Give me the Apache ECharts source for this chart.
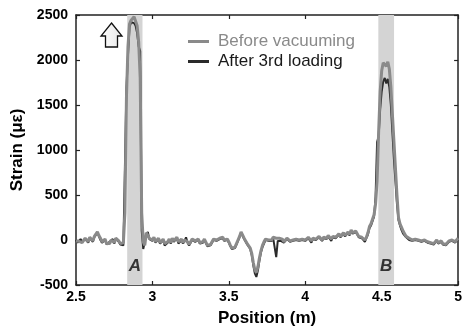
<!DOCTYPE html>
<html><head><meta charset="utf-8">
<script src="https://cdn.jsdelivr.net/npm/echarts@6/dist/echarts.min.js"></script>
<style>html,body{margin:0;padding:0;background:#fff}#c{width:465px;height:332px}</style>
</head><body><div id="c"></div>
<script>
// Sampling grid (m): 2.50 .. 5.00, step 0.01
const startPos = 2.5;
const stepPos = 0.01;

// Before vacuuming (µε), one value per 0.01 m
const beforeVacuuming = [
  -10, -20, -15, 0, -30, -10, 20, 10, -20, 30,
  20, -10, 40, 60, 90, 50, 20, -20, -30, 10,
  -40, -20, -40, 0, 20, -30, 20, 40, -10, -40,
  -30, -30, 300, 1580, 2150, 2400, 2440, 2460, 2480, 2460,
  2380, 2200, 1800, 300, -20, -60, 80, 60, 20, 40,
  0, 30, -20, -10, 20, -30, -10, 10, -40, -60,
  -20, 10, -30, 20, -10, 0, 30, -20, -10, 10,
  -30, 0, 20, -20, -50, -30, 10, 20, -10, -20,
  10, -30, -40, -20, 10, -10, -60, -80, -50, -20,
  10, 30, 0, -20, 20, 40, 30, 0, -20, 10,
  -20, -60, -90, -100, -80, -40, 0, 40, 90, 80,
  20, -10, -40, -60, -90, -150, -250, -330, -360, -300,
  -200, -120, -60, -20, 10, -10, 0, 20, 0, 30,
  10, 20, 0, 20, 0, 10, -20, 0, 20, 10,
  -10, 10, 0, -20, 10, 20, 0, -10, 10, 20,
  0, 20, 30, 10, -10, 20, 30, 10, 20, 40,
  20, 0, 30, 40, 20, 50, 30, 10, 40, 60,
  30, 50, 70, 40, 60, 80, 50, 70, 90, 60,
  110, 80, 60, 100, 70, 40, 60, 30, 10, 0,
  30, 80, 150, 180, 200, 280, 400, 650, 1200, 1650,
  1880, 1970, 1980, 1930, 1980, 1900, 1700, 1400, 1100, 800,
  500, 250, 180, 140, 100, 70, 40, 30, 20, 10,
  0, 20, 10, -10, 0, 20, -10, -20, 0, 10,
  -20, 0, -30, -10, -40, -20, 0, -30, -20, -10,
  -40, -20, -50, -30, -10, -20, 0, 10, -20, 0,
  20
];

// After 3rd loading (µε)
const after3rdLoading = [
  0, -30, -20, 10, -20, -30, 10, 20, -30, 20,
  10, -20, 30, 50, 80, 40, 0, -30, -40, 0,
  -50, -30, -20, -10, 10, -40, 10, 30, -20, -50,
  -50, -60, -60, 1690, 2050, 2360, 2420, 2430, 2410, 2380,
  2300, 2150, 2100, 100, -100, -80, 60, 90, 10, 30,
  -10, 20, -30, -20, 10, -40, -20, 0, -60, -80,
  -30, 0, -40, 10, -20, -10, 20, -40, -20, 0,
  -40, -10, 30, -30, -60, -40, 0, 10, -20, -30,
  0, -40, -50, -30, 0, -20, -70, -90, -60, -30,
  0, 20, -10, -30, 10, 30, 20, -10, -30, 0,
  -30, -70, -100, -110, -90, -50, -10, 30, 80, 70,
  10, -20, -50, -70, -100, -170, -280, -370, -410, -340,
  -230, -140, -80, -40, 0, -20, -10, 10, -10, 20,
  0, -190, -10, 10, -10, 0, -30, -10, 10, 0,
  -20, 0, -10, -30, 0, 10, -10, -20, 0, 10,
  -10, 10, 20, 0, -30, 10, 20, 0, 10, 30,
  10, -10, 20, 30, 10, 40, 20, -10, 30, 50,
  20, 40, 60, 30, 50, 70, 40, 60, 80, 50,
  100, 70, 50, 90, 60, 30, 50, 20, 0, -20,
  20, 60, 130, 160, 180, 260, 480, 1090, 1150, 1450,
  1650, 1760, 1800, 1740, 1790, 1700, 1500, 1200, 900, 650,
  400, 220, 160, 110, 70, 50, 30, 10, 0, -10,
  -10, 10, 0, -20, -10, 10, -20, -30, -10, 0,
  -30, -10, -40, -20, -50, -30, -10, -40, -30, -20,
  -50, -30, -60, -40, -20, -30, -10, 0, -30, -10,
  10
];

const positions = beforeVacuuming.map((_, i) => +(startPos + i * stepPos).toFixed(2));

// Axis ranges
const xRange = { min: 2.5, max: 5, interval: 0.5 };
const yRange = { min: -500, max: 2500, interval: 500 };

// Shaded zones
const bandNames = ['A', 'B'];
const bandFrom = [2.835, 4.478];
const bandTo = [2.935, 4.581];

const seriesNames = ['Before vacuuming', 'After 3rd loading'];

const FONT = '"Liberation Sans", Arial, sans-serif';
const AX = '#222';

function zip(vals) { return vals.map((v, i) => [positions[i], v]); }

const chart = echarts.init(document.getElementById('c'), null, { renderer: 'canvas' });

const baseX = {
  type: 'value', min: xRange.min, max: xRange.max, interval: xRange.interval,
  axisLine: { onZero: false, lineStyle: { color: AX, width: 1.5 } },
  axisTick: { inside: true, length: 4, lineStyle: { color: AX, width: 1.2 } },
  splitLine: { show: false }
};
const baseY = {
  type: 'value', min: yRange.min, max: yRange.max, interval: yRange.interval,
  axisLine: { show: true, onZero: false, lineStyle: { color: AX, width: 1.5 } },
  axisTick: { show: true, inside: true, length: 4, lineStyle: { color: AX, width: 1.2 } },
  splitLine: { show: false }
};

chart.setOption({
  animation: false,
  backgroundColor: '#fff',
  grid: { left: 76, right: 2, top: 15, bottom: 47 },
  legend: {
    orient: 'vertical', left: 183, top: 28, itemWidth: 21, itemHeight: 3, itemGap: 3,
    icon: 'rect',
    textStyle: { fontSize: 17, fontFamily: FONT, padding: [0, 0, 0, 4] },
    data: [
      { name: seriesNames[0], textStyle: { color: '#8a8a8a' } },
      { name: seriesNames[1], textStyle: { color: '#1a1a1a' } }
    ]
  },
  xAxis: [
    Object.assign({}, baseX, {
      position: 'bottom',
      axisLabel: { color: '#000', fontWeight: 'bold', fontSize: 14, fontFamily: FONT, margin: 5 },
      name: 'Position (m)', nameLocation: 'middle', nameGap: 25,
      nameTextStyle: { color: '#000', fontWeight: 'bold', fontSize: 17, fontFamily: FONT }
    }),
    Object.assign({}, baseX, { position: 'top', axisLabel: { show: false } })
  ],
  yAxis: [
    Object.assign({}, baseY, {
      position: 'left',
      axisLabel: { color: '#000', fontWeight: 'bold', fontSize: 14, fontFamily: FONT, margin: 8,
        formatter: v => String(v) },
      name: 'Strain (με)', nameLocation: 'middle', nameGap: 40,
      nameTextStyle: { color: '#000', fontWeight: 'bold', fontSize: 17, fontFamily: FONT }
    }),
    Object.assign({}, baseY, { position: 'right', axisLabel: { show: false } })
  ],
  series: [
    {
      name: seriesNames[1], type: 'line', data: zip(after3rdLoading),
      showSymbol: false, symbol: 'none',
      lineStyle: { color: '#2a2a2a', width: 2 }, itemStyle: { color: '#2a2a2a' },
      z: 3,
      markArea: {
        silent: true,
        itemStyle: { color: '#d4d4d4' },
        label: {
          show: true, position: 'insideBottom', distance: 10,
          color: '#333', fontSize: 17, fontWeight: 'bold', fontStyle: 'italic', fontFamily: FONT
        },
        data: bandNames.map((n, i) => [{ name: n, xAxis: bandFrom[i] }, { xAxis: bandTo[i] }])
      }
    },
    {
      name: seriesNames[0], type: 'line', data: zip(beforeVacuuming),
      showSymbol: false, symbol: 'none',
      lineStyle: { color: '#8a8a8a', width: 3 }, itemStyle: { color: '#8a8a8a' },
      z: 4
    }
  ],
  graphic: [
    {
      type: 'polygon', z: 10,
      shape: { points: [[111.5, 23], [122, 36], [117.5, 36], [117.5, 47], [105.5, 47], [105.5, 36], [101, 36]] },
      style: {
        fill: { type: 'linear', x: 0, y: 0, x2: 1, y2: 0, colorStops: [{ offset: 0, color: '#ffffff' }, { offset: 1, color: '#e6e6e6' }] },
        stroke: '#111', lineWidth: 1.3
      }
    }
  ]
});
</script>
</body></html>
